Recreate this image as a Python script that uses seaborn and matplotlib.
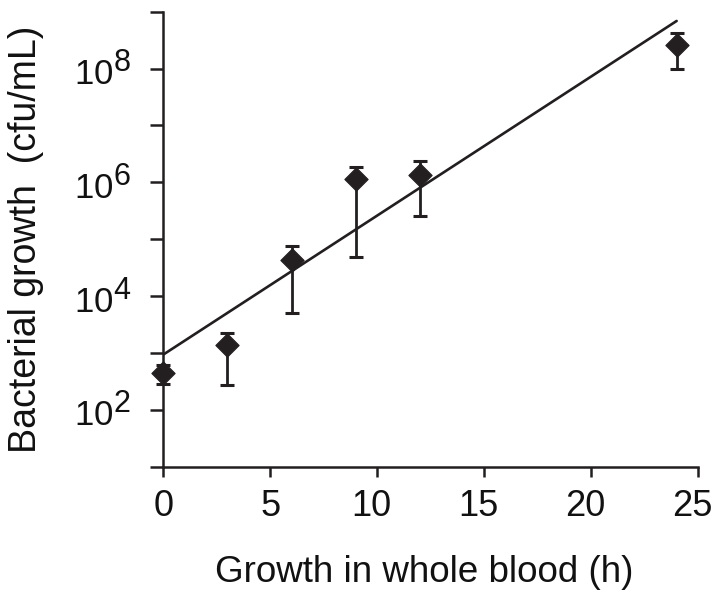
import numpy as np
import pandas as pd
import matplotlib
matplotlib.use("Agg")
import matplotlib.pyplot as plt
import matplotlib._mathtext as _mt
from matplotlib.transforms import ScaledTranslation
import seaborn as sns

# ---- data ----
hours = [0, 3, 6, 9, 12, 24]
cfu_mean = [450, 1370, 4.3e4, 1.16e6, 1.33e6, 2.6e8]
cfu_low = [290, 270, 5.1e3, 4.9e4, 2.6e5, 1.0e8]
cfu_high = [620, 2270, 7.6e4, 1.86e6, 2.34e6, 4.3e8]
x_ticks = [0, 5, 10, 15, 20, 25]
y_decades = [1, 2, 3, 4, 5, 6, 7, 8, 9]
y_labelled = [2, 4, 6, 8]

sns.set_theme(style="ticks")
plt.rcParams["font.family"] = ["Liberation Sans", "DejaVu Sans"]
_mt.SHRINK_FACTOR = 0.88

INK = "#231f20"

df = pd.DataFrame({
    "hours": hours,
    "log_cfu": np.log10(cfu_mean),
    "log_low": np.log10(cfu_low),
    "log_high": np.log10(cfu_high),
})

fig = plt.figure(figsize=(7.16, 5.98), dpi=100)
ax = fig.add_axes([0.2281, 0.2196, 0.9749 - 0.2281, 0.9804 - 0.2196])

# regression line (log-linear fit) through seaborn
sns.regplot(data=df, x="hours", y="log_cfu", ax=ax, scatter=False, ci=None,
            truncate=True, line_kws=dict(color=INK, lw=1.9, zorder=2))

# asymmetric error bars + diamond markers
yerr = np.vstack([df["log_cfu"] - df["log_low"], df["log_high"] - df["log_cfu"]])
ax.errorbar(df["hours"], df["log_cfu"], yerr=yerr, fmt="none", ecolor=INK,
            elinewidth=2.0, capsize=4.8, capthick=2.2, zorder=3, clip_on=False)
sns.scatterplot(data=df, x="hours", y="log_cfu", ax=ax, marker="D", s=140,
                color=INK, edgecolor=INK, linewidth=0.8, zorder=4, clip_on=False)

ax.set_xlim(0, 25)
ax.set_ylim(1, 9)
ax.set_xticks(x_ticks)
ax.set_xticklabels([str(t) for t in x_ticks])
ax.set_yticks(y_decades)
ax.set_yticklabels([r"$\mathregular{10^{%d}}$" % d if d in y_labelled else ""
                    for d in y_decades])

for side in ["top", "right"]:
    ax.spines[side].set_visible(False)
for side in ["left", "bottom"]:
    ax.spines[side].set_linewidth(1.8)
    ax.spines[side].set_color(INK)

ax.tick_params(axis="x", direction="out", length=7.2, width=1.8, color=INK,
               labelsize=26, labelcolor="#111111", pad=9)
ax.tick_params(axis="y", direction="out", length=9.4, width=1.8, color=INK,
               labelsize=25, labelcolor="#111111", pad=14)

# two-digit hour labels sit slightly left of their ticks in the reference
for lab in ax.get_xticklabels():
    if len(lab.get_text()) > 1:
        lab.set_transform(lab.get_transform() +
                          ScaledTranslation(-6 / 100, 0, fig.dpi_scale_trans))

ax.set_xlabel("Growth in whole blood (h)", fontsize=26.5, color="#111111")
ax.set_ylabel("Bacterial growth  (cfu/mL)", fontsize=27, color="#111111")
ax.xaxis.set_label_coords(0.4876, -0.194)
ax.yaxis.set_label_coords(-0.223, 0.5)

fig.savefig("out.png", dpi=100)
